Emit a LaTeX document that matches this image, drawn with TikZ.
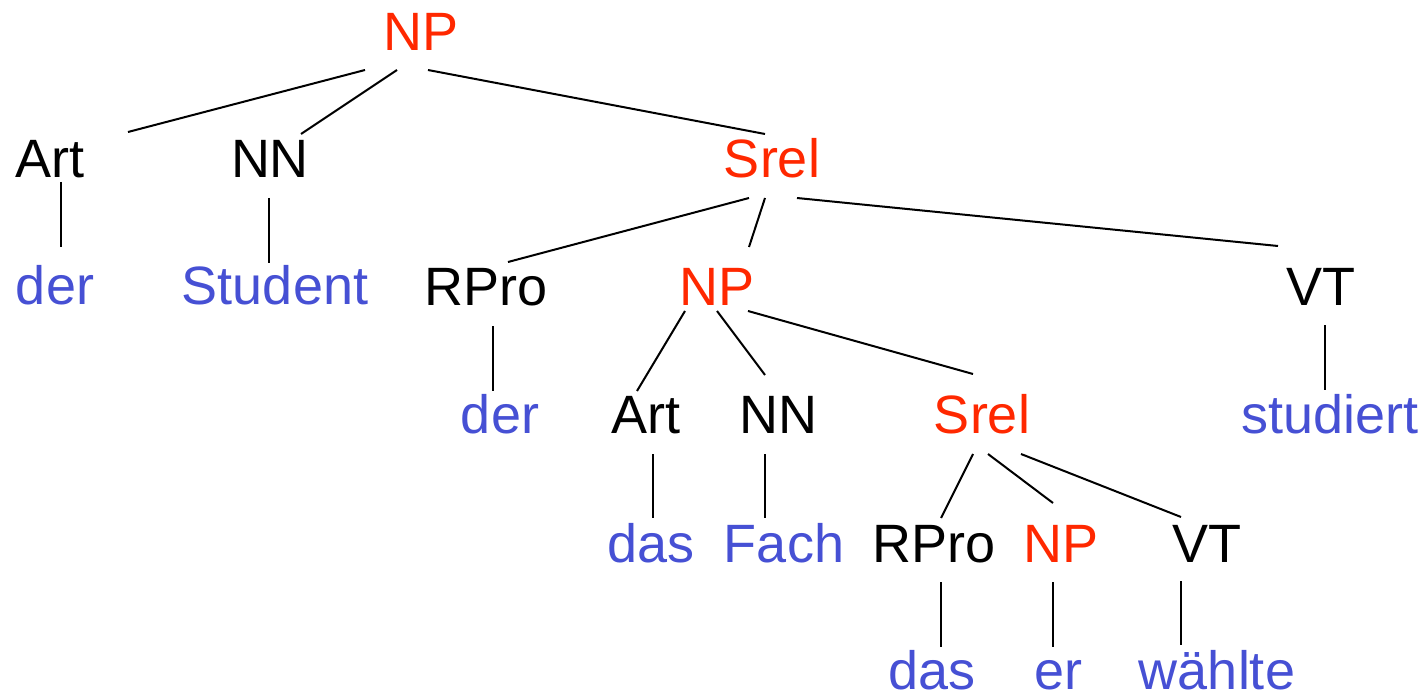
\documentclass[tikz,border=0pt]{standalone}
\usepackage{fontspec}
\setmainfont{Liberation Sans}
\usetikzlibrary{calc}
\definecolor{catred}{RGB}{255,40,0}
\definecolor{wordblue}{RGB}{70,80,212}
\begin{document}
\begin{tikzpicture}[x=0.5pt,y=-0.5pt,
  lbl/.style={anchor=base,inner sep=0pt,text depth=0pt,font=\fontsize{27pt}{30pt}\selectfont},
  cat/.style={lbl,text=black},
  phr/.style={lbl,text=catred},
  wrd/.style={lbl,text=wordblue},
  edge/.style={draw=black,line width=1pt}]
\useasboundingbox (0,0) rectangle (1424,695);
% nodes
\node[phr] (np1) at (421,51) {NP};
\node[cat] (art1) at (50,178) {Art};
\node[cat] (nn1) at (270,178) {NN};
\node[phr] (srel1) at (772,178) {Srel};
\node[wrd] (der1) at (55,305) {der};
\node[wrd] (student) at (275,305) {Student};
\node[cat] (rpro1) at (486,306) {RPro};
\node[phr] (np2) at (717,306) {NP};
\node[cat] (vt1) at (1321,306) {VT};
\node[wrd] (der2) at (500,433) {der};
\node[cat] (art2) at (646,433) {Art};
\node[cat] (nn2) at (778,433) {NN};
\node[phr] (srel2) at (982,433) {Srel};
\node[wrd] (studiert) at (1330,433) {studiert};
\node[wrd] (das1) at (651,562) {das};
\node[wrd] (fach) at (784,562) {Fach};
\node[cat] (rpro2) at (934,562) {RPro};
\node[phr] (np3) at (1061,562) {NP};
\node[cat] (vt2) at (1207,562) {VT};
\node[wrd] (das2) at (932,689) {das};
\node[wrd] (er) at (1058,689) {er};
\node[wrd] (waehlte) at (1217,689) {wählte};
% connectors
\draw[edge] ($(np1.base)+(-56,19)$) -- ($(art1.base)+(78,-46)$);
\draw[edge] ($(np1.base)+(-24,19)$) -- ($(nn1.base)+(31,-44)$);
\draw[edge] ($(np1.base)+(7,19)$) -- ($(srel1.base)+(-7,-44)$);
\draw[edge] ($(art1.base)+(11,4)$) -- ($(der1.base)+(6,-58)$);
\draw[edge] ($(nn1.base)+(-1,20)$) -- ($(student.base)+(-6,-42)$);
\draw[edge] ($(srel1.base)+(-23,20)$) -- ($(rpro1.base)+(22,-44)$);
\draw[edge] ($(srel1.base)+(-7,20)$) -- ($(np2.base)+(32,-59)$);
\draw[edge] ($(srel1.base)+(25,20)$) -- ($(vt1.base)+(-43,-60)$);
\draw[edge] ($(rpro1.base)+(7,20)$) -- ($(der2.base)+(-7,-42)$);
\draw[edge] ($(vt1.base)+(4,19)$) -- ($(studiert.base)+(-5,-43)$);
\draw[edge] ($(np2.base)+(-32,5)$) -- ($(art2.base)+(-9,-42)$);
\draw[edge] ($(np2.base)+(0,5)$) -- ($(nn2.base)+(-13,-58)$);
\draw[edge] ($(np2.base)+(31,5)$) -- ($(srel2.base)+(-9,-59)$);
\draw[edge] ($(art2.base)+(7,21)$) -- ($(das1.base)+(2,-44)$);
\draw[edge] ($(nn2.base)+(-13,21)$) -- ($(fach.base)+(-19,-44)$);
\draw[edge] ($(srel2.base)+(-9,21)$) -- ($(rpro2.base)+(7,-44)$);
\draw[edge] ($(srel2.base)+(6,21)$) -- ($(np3.base)+(-8,-59)$);
\draw[edge] ($(srel2.base)+(39,21)$) -- ($(vt2.base)+(-26,-45)$);
\draw[edge] ($(rpro2.base)+(7,20)$) -- ($(das2.base)+(9,-42)$);
\draw[edge] ($(np3.base)+(-8,20)$) -- ($(er.base)+(-5,-42)$);
\draw[edge] ($(vt2.base)+(-26,19)$) -- ($(waehlte.base)+(-36,-44)$);
\end{tikzpicture}
\end{document}
